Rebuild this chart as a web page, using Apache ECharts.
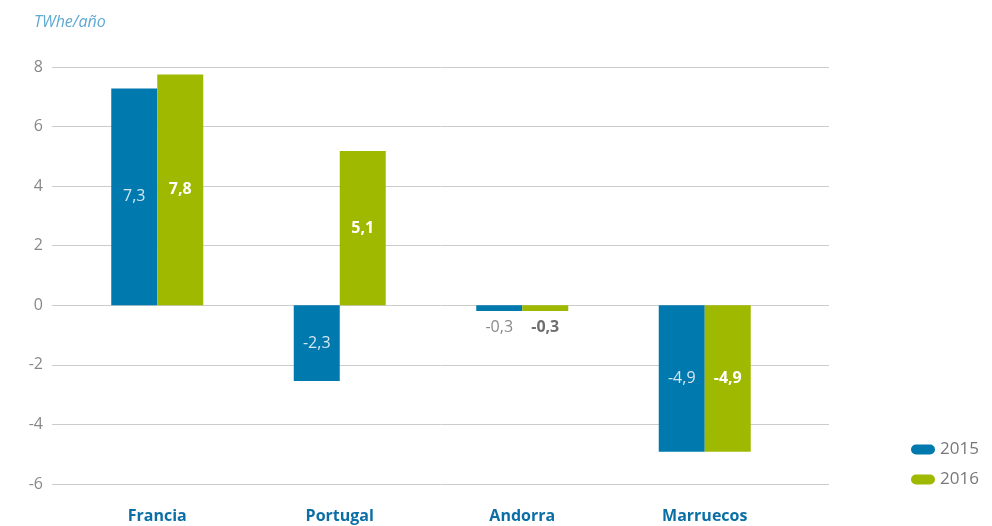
<!DOCTYPE html>
<html>
<head>
<meta charset="utf-8">
<script src="https://cdn.jsdelivr.net/npm/echarts@6/dist/echarts.min.js"></script>
<style>
  html, body { margin: 0; padding: 0; background: #fff; }
  #main { width: 992px; height: 526px; }
</style>
</head>
<body>
<div id="main"></div>
<script>
// datos
const paises = ['Francia', 'Portugal', 'Andorra', 'Marruecos']
const valores2015 = [7.28, -2.54, -0.19, -4.92]
const valores2016 = [7.75, 5.18, -0.19, -4.92]
const etiquetas2015 = [7.3, -2.3, -0.3, -4.9]
const etiquetas2016 = [7.8, 5.1, -0.3, -4.9]
const ticksY = [-6, -4, -2, 0, 2, 4, 6, 8]

const azul = '#0079ae'
const verde = '#9fb900'
const fuente = '"Open Sans", "Noto Sans", sans-serif'
// icono de leyenda tipo "píldora"
const pildora = 'path://M5,0 H19 A5,5 0 0 1 19,10 H5 A5,5 0 0 1 5,0 Z'

function fmt(v) {
  return v.toFixed(1).replace('.', ',')
}

// Andorra lleva la etiqueta fuera, debajo de la barra
function serie(valores, etiquetas, colorFuera) {
  return valores.map((v, i) => {
    let item = { value: v, texto: fmt(etiquetas[i]) }
    if (paises[i] === 'Andorra') {
      item.label = { position: 'bottom', distance: 8, color: colorFuera }
    }
    return item
  })
}

let myChart = echarts.init(document.getElementById('main'))
let option = {
  backgroundColor: '#fff',
  textStyle: { fontFamily: fuente },
  title: {
    text: 'TWhe/año',
    left: 29,
    top: 9,
    textStyle: {
      color: '#5fa9d3',
      fontStyle: 'italic',
      fontWeight: 'normal',
      fontSize: 16,
      fontFamily: fuente
    }
  },
  legend: {
    orient: 'vertical',
    left: 906,
    top: 436,
    itemWidth: 24,
    itemHeight: 10,
    itemGap: 13,
    icon: pildora,
    textStyle: { color: '#777', fontSize: 17, fontFamily: fuente },
    data: ['2015', '2016']
  },
  grid: [
    { left: 52, right: 163, top: 67, bottom: 42 },
    { left: 66, right: 196, top: 67, bottom: 42 }
  ],
  xAxis: [
    { gridIndex: 0, type: 'value', show: false, min: 0, max: 1 },
    {
      gridIndex: 1,
      type: 'category',
      data: paises,
      position: 'bottom',
      axisLine: { show: false },
      axisTick: { show: false },
      axisLabel: {
        color: '#0b6fa6',
        fontWeight: 'bold',
        fontSize: 16,
        margin: 24,
        fontFamily: fuente
      }
    }
  ],
  yAxis: [
    {
      gridIndex: 0,
      type: 'value',
      min: -6,
      max: 8,
      interval: 2,
      axisLine: { show: false },
      axisTick: { show: false },
      splitLine: { show: true, lineStyle: { color: '#cccccc', width: 1 } },
      axisLabel: {
        color: '#888',
        fontSize: 16,
        margin: 9,
        fontFamily: fuente,
        formatter: v => ticksY.includes(v) ? String(v) : ''
      }
    },
    {
      gridIndex: 1,
      type: 'value',
      min: -6,
      max: 8,
      interval: 2,
      show: false,
      splitLine: { show: false }
    }
  ],
  series: [
    {
      name: '2015',
      type: 'bar',
      xAxisIndex: 1,
      yAxisIndex: 1,
      barWidth: 46,
      barGap: '0%',
      itemStyle: { color: azul },
      label: {
        show: true,
        position: 'inside',
        color: '#d4e6f1',
        fontSize: 16,
        fontFamily: fuente,
        formatter: p => p.data.texto
      },
      data: serie(valores2015, etiquetas2015, '#8a8a8a')
    },
    {
      name: '2016',
      type: 'bar',
      xAxisIndex: 1,
      yAxisIndex: 1,
      barWidth: 46,
      barGap: '0%',
      itemStyle: { color: verde },
      label: {
        show: true,
        position: 'inside',
        color: '#fff',
        fontWeight: 'bold',
        fontSize: 16,
        fontFamily: fuente,
        formatter: p => p.data.texto
      },
      data: serie(valores2016, etiquetas2016, '#6f6f6f')
    }
  ]
}
myChart.setOption(option)
</script>
</body>
</html>
